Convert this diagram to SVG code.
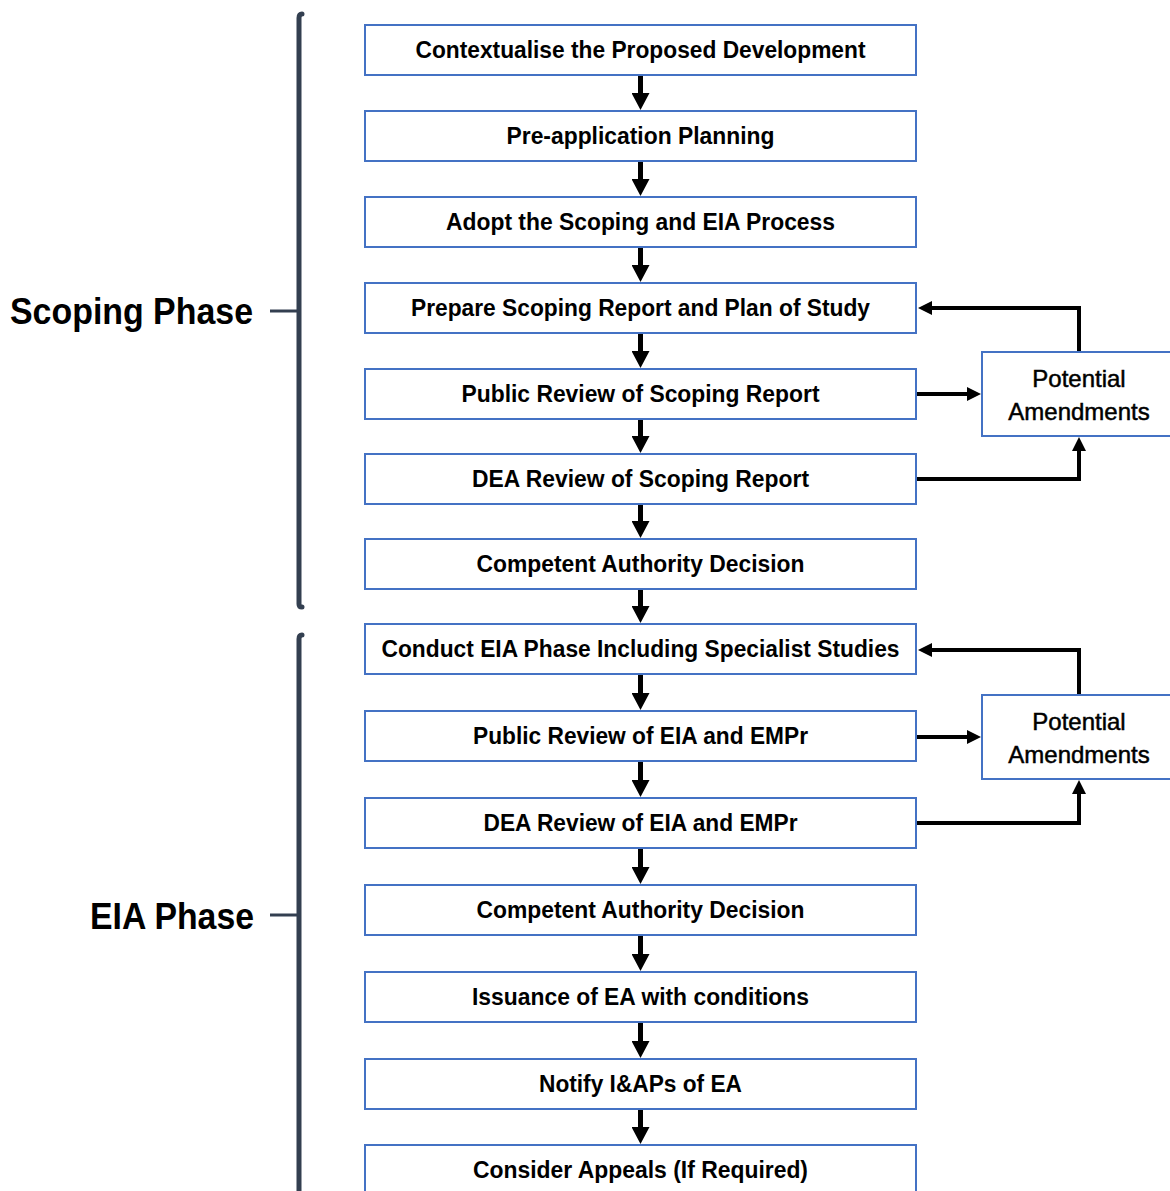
<svg xmlns="http://www.w3.org/2000/svg" width="1170" height="1191" viewBox="0 0 1170 1191">
<style>
.box{fill:#fff;stroke:#4472c4;stroke-width:2}
.t{font-family:"Liberation Sans",Arial,sans-serif;font-weight:bold;font-size:23.5px;fill:#000;text-anchor:middle}
.pa{font-family:"Liberation Sans",Arial,sans-serif;font-size:24px;fill:#000;stroke:#000;stroke-width:0.5;text-anchor:middle}
.ph{font-family:"Liberation Sans",Arial,sans-serif;font-weight:bold;font-size:37px;fill:#000}
.br{fill:none;stroke:#333f50;stroke-width:5;stroke-linecap:round}
.tick{stroke:#333f50;stroke-width:3}
.flow{stroke:#000;stroke-width:5;fill:none;marker-end:url(#big)}
.con{stroke:#000;stroke-width:4;fill:none;marker-end:url(#small)}
</style>
<defs>
<marker id="big" viewBox="0 0 17 18" refX="1" refY="9" markerWidth="17" markerHeight="18" markerUnits="userSpaceOnUse" orient="auto"><path d="M0,0 L17,9 L0,18 Z" fill="#000"/></marker>
<marker id="small" viewBox="0 0 14 14" refX="1" refY="7" markerWidth="14" markerHeight="14" markerUnits="userSpaceOnUse" orient="auto"><path d="M0,0 L14,7 L0,14 Z" fill="#000"/></marker>
</defs>
<rect width="1170" height="1191" fill="#fff"/>
<g id="phases">
<path class="br" d="M302,14 Q299,14 299,18 L299,604 Q299,607 302,607"/>
<path class="br" d="M302,635 Q299,635 299,639 L299,1196"/>
<line class="tick" x1="270" y1="311" x2="299" y2="311"/>
<line class="tick" x1="270" y1="915" x2="299" y2="915"/>
<text class="ph" x="10" y="324" textLength="243" lengthAdjust="spacingAndGlyphs">Scoping Phase</text>
<text class="ph" x="90" y="929" textLength="164" lengthAdjust="spacingAndGlyphs">EIA Phase</text>
</g>
<g id="connectors">
<path class="flow" d="M640.5,75 V94"/>
<path class="flow" d="M640.5,161 V180"/>
<path class="flow" d="M640.5,247 V266"/>
<path class="flow" d="M640.5,333 V352"/>
<path class="flow" d="M640.5,419 V437"/>
<path class="flow" d="M640.5,504 V522"/>
<path class="flow" d="M640.5,589 V607"/>
<path class="flow" d="M640.5,674 V694"/>
<path class="flow" d="M640.5,761 V781"/>
<path class="flow" d="M640.5,848 V868"/>
<path class="flow" d="M640.5,935 V955"/>
<path class="flow" d="M640.5,1022 V1042"/>
<path class="flow" d="M640.5,1109 V1128"/>
<path class="con" d="M1079,352 V308 H931"/>
<path class="con" d="M916,394 H968"/>
<path class="con" d="M916,479 H1079 V450"/>
<path class="con" d="M1079,695 V650 H931"/>
<path class="con" d="M916,737 H968"/>
<path class="con" d="M916,823 H1079 V793"/>
</g>
<g id="n1"><rect class="box" x="365" y="25" width="551" height="50"/><text class="t" x="640.5" y="58" textLength="450" lengthAdjust="spacingAndGlyphs">Contextualise the Proposed Development</text></g>
<g id="n2"><rect class="box" x="365" y="111" width="551" height="50"/><text class="t" x="640.5" y="144" textLength="268" lengthAdjust="spacingAndGlyphs">Pre-application Planning</text></g>
<g id="n3"><rect class="box" x="365" y="197" width="551" height="50"/><text class="t" x="640.5" y="230" textLength="389" lengthAdjust="spacingAndGlyphs">Adopt the Scoping and EIA Process</text></g>
<g id="n4"><rect class="box" x="365" y="283" width="551" height="50"/><text class="t" x="640.5" y="316" textLength="459" lengthAdjust="spacingAndGlyphs">Prepare Scoping Report and Plan of Study</text></g>
<g id="n5"><rect class="box" x="365" y="369" width="551" height="50"/><text class="t" x="640.5" y="402" textLength="358" lengthAdjust="spacingAndGlyphs">Public Review of Scoping Report</text></g>
<g id="n6"><rect class="box" x="365" y="454" width="551" height="50"/><text class="t" x="640.5" y="487" textLength="337" lengthAdjust="spacingAndGlyphs">DEA Review of Scoping Report</text></g>
<g id="n7"><rect class="box" x="365" y="539" width="551" height="50"/><text class="t" x="640.5" y="572" textLength="328" lengthAdjust="spacingAndGlyphs">Competent Authority Decision</text></g>
<g id="n8"><rect class="box" x="365" y="624" width="551" height="50"/><text class="t" x="640.5" y="657" textLength="518" lengthAdjust="spacingAndGlyphs">Conduct EIA Phase Including Specialist Studies</text></g>
<g id="n9"><rect class="box" x="365" y="711" width="551" height="50"/><text class="t" x="640.5" y="744" textLength="335" lengthAdjust="spacingAndGlyphs">Public Review of EIA and EMPr</text></g>
<g id="n10"><rect class="box" x="365" y="798" width="551" height="50"/><text class="t" x="640.5" y="831" textLength="314" lengthAdjust="spacingAndGlyphs">DEA Review of EIA and EMPr</text></g>
<g id="n11"><rect class="box" x="365" y="885" width="551" height="50"/><text class="t" x="640.5" y="918" textLength="328" lengthAdjust="spacingAndGlyphs">Competent Authority Decision</text></g>
<g id="n12"><rect class="box" x="365" y="972" width="551" height="50"/><text class="t" x="640.5" y="1005" textLength="337" lengthAdjust="spacingAndGlyphs">Issuance of EA with conditions</text></g>
<g id="n13"><rect class="box" x="365" y="1059" width="551" height="50"/><text class="t" x="640.5" y="1092" textLength="203" lengthAdjust="spacingAndGlyphs">Notify I&amp;APs of EA</text></g>
<g id="n14"><rect class="box" x="365" y="1145" width="551" height="50"/><text class="t" x="640.5" y="1178" textLength="335" lengthAdjust="spacingAndGlyphs">Consider Appeals (If Required)</text></g>
<g id="pa1"><rect class="box" x="982" y="352" width="196" height="84"/><text class="pa" x="1079" y="387">Potential</text><text class="pa" x="1079" y="420">Amendments</text></g>
<g id="pa2"><rect class="box" x="982" y="695" width="196" height="84"/><text class="pa" x="1079" y="730">Potential</text><text class="pa" x="1079" y="763">Amendments</text></g>
</svg>
